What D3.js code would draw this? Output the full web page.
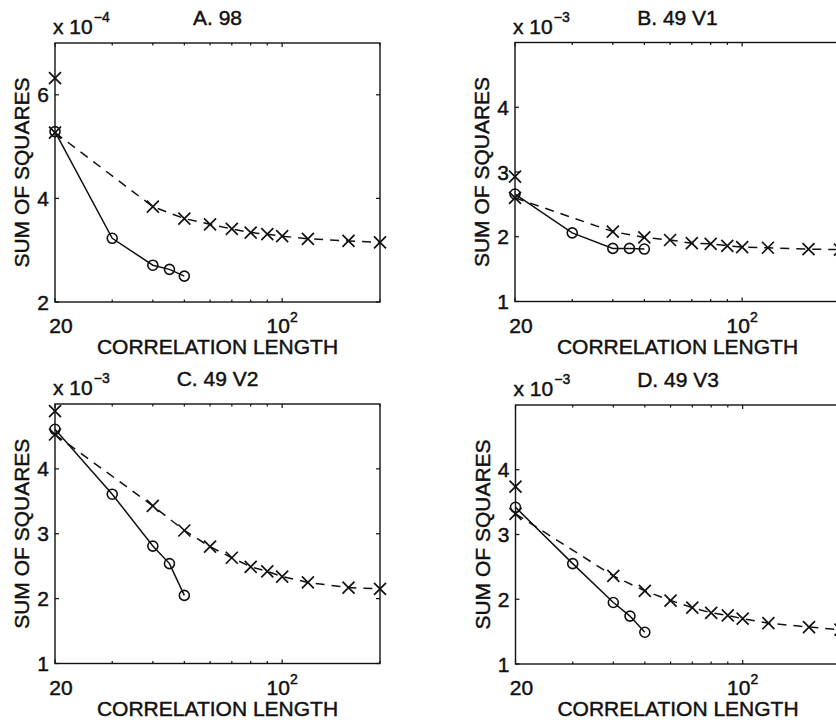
<!DOCTYPE html>
<html>
<head>
<meta charset="utf-8">
<script src="https://cdn.jsdelivr.net/npm/d3@7"></script>
<style>
  html, body { margin: 0; padding: 0; background: #fff; }
  svg { display: block; }
  text { font-family: "Liberation Sans", Arial, Helvetica, sans-serif; fill: #111; stroke: #111; stroke-width: 0.45px; }
</style>
</head>
<body>
<svg id="chart" width="836" height="723"></svg>
<script>
// ---------- data ----------
const panelTitles = ["A. 98", "B. 49 V1", "C. 49 V2", "D. 49 V3"];
const exponents = [-4, -3, -3, -3];
const yMin = [2, 1, 1, 1];
const yMax = [7, 5, 5, 5];
const yTickLabelsA = [2, 4, 6];
const yTickLabelsBCD = [1, 2, 3, 4];
const xMin = 20;
const xMax = 200;
const xMajorTicks = [20, 100];
const xMinorTicks = [30, 40, 50, 60, 70, 80, 90, 200];

// correlation lengths
const lengthsDashed = [20, 40, 50, 60, 70, 80, 90, 100, 120, 160, 200];
const lengthsSolid = [20, 30, 40, 45, 50];

// dashed series (x markers)
const dashedA = [5.27, 3.84, 3.61, 3.50, 3.41, 3.34, 3.31, 3.27, 3.22, 3.18, 3.15];
const dashedB = [2.60, 2.08, 1.99, 1.95, 1.90, 1.89, 1.86, 1.84, 1.83, 1.81, 1.80];
const dashedC = [4.53, 3.43, 3.05, 2.80, 2.63, 2.49, 2.42, 2.34, 2.25, 2.17, 2.15];
const dashedD = [3.32, 2.36, 2.13, 1.98, 1.87, 1.79, 1.75, 1.70, 1.63, 1.57, 1.53];

// solid series (circle markers)
const solidA = [5.29, 3.23, 2.71, 2.63, 2.50];
const solidB = [2.66, 2.06, 1.82, 1.82, 1.81];
const solidC = [4.61, 3.61, 2.81, 2.54, 2.05];
const solidD = [3.42, 2.55, 1.95, 1.74, 1.49];

// isolated point at length 20
const isolated = [6.32, 2.93, 4.89, 3.74];

// ---------- layout ----------
const panels = [
  { left: 55,    top: 43,  w: 325, h: 259,   dashed: dashedA, solid: solidA, ticks: yTickLabelsA },
  { left: 515,   top: 42.5,w: 325, h: 259,   dashed: dashedB, solid: solidB, ticks: yTickLabelsBCD },
  { left: 55,    top: 404, w: 325, h: 259.5, dashed: dashedC, solid: solidC, ticks: yTickLabelsBCD },
  { left: 515.5, top: 405, w: 325, h: 259,   dashed: dashedD, solid: solidD, ticks: yTickLabelsBCD }
];

const svg = d3.select("#chart");
const FS = 21;
const SUP = 14;

function xMarker(g, cx, cy, s) {
  g.append("path")
    .attr("d", `M${cx - s},${cy - s}L${cx + s},${cy + s}M${cx - s},${cy + s}L${cx + s},${cy - s}`)
    .attr("stroke", "#111").attr("stroke-width", 1.7).attr("fill", "none");
}

panels.forEach((p, i) => {
  const g = svg.append("g").attr("transform", `translate(${p.left},${p.top})`);
  const x = d3.scaleLog().domain([xMin, xMax]).range([0, p.w]);
  const y = d3.scaleLinear().domain([yMin[i], yMax[i]]).range([p.h, 0]);

  // frame
  g.append("rect").attr("x", 0).attr("y", 0).attr("width", p.w).attr("height", p.h)
    .attr("fill", "none").attr("stroke", "#111").attr("stroke-width", 1.4);

  // x ticks (inside, bottom & top)
  const xt = xMajorTicks.map(v => ({ v, len: 4 })).concat(xMinorTicks.map(v => ({ v, len: 2.5 })));
  xt.forEach(t => {
    const xx = x(t.v);
    g.append("line").attr("x1", xx).attr("x2", xx).attr("y1", p.h).attr("y2", p.h - t.len)
      .attr("stroke", "#111").attr("stroke-width", 1.2);
    g.append("line").attr("x1", xx).attr("x2", xx).attr("y1", 0).attr("y2", t.len)
      .attr("stroke", "#111").attr("stroke-width", 1.2);
  });
  // y ticks (inside, left & right)
  p.ticks.forEach(v => {
    const yy = y(v);
    g.append("line").attr("x1", 0).attr("x2", 4).attr("y1", yy).attr("y2", yy)
      .attr("stroke", "#111").attr("stroke-width", 1.2);
    g.append("line").attr("x1", p.w).attr("x2", p.w - 4).attr("y1", yy).attr("y2", yy)
      .attr("stroke", "#111").attr("stroke-width", 1.2);
  });

  // y tick labels
  p.ticks.forEach(v => {
    g.append("text").attr("x", -6).attr("y", y(v) + 7.5).attr("text-anchor", "end")
      .attr("font-size", FS).text(v);
  });

  // x tick labels
  g.append("text").attr("x", x(20) + 6).attr("y", p.h + 31).attr("text-anchor", "middle")
    .attr("font-size", FS).text("20");
  const t100 = g.append("text").attr("x", x(100)).attr("y", p.h + 31).attr("text-anchor", "middle")
    .attr("font-size", FS);
  t100.append("tspan").text("10");
  t100.append("tspan").attr("dy", -11).attr("font-size", SUP).text("2");

  // axis titles
  g.append("text").attr("x", p.w / 2).attr("y", p.h + 52).attr("text-anchor", "middle")
    .attr("font-size", FS).text("CORRELATION LENGTH");
  g.append("text").attr("transform", `translate(-26,${p.h / 2}) rotate(-90)`)
    .attr("text-anchor", "middle").attr("font-size", FS).text("SUM OF SQUARES");

  // panel title
  g.append("text").attr("x", p.w / 2).attr("y", -18).attr("text-anchor", "middle")
    .attr("font-size", FS).text(panelTitles[i]);

  // exponent label
  const ex = g.append("text").attr("x", -2).attr("y", -9).attr("font-size", FS);
  ex.append("tspan").text("x 10");
  ex.append("tspan").attr("dy", -12).attr("dx", 1).attr("font-size", SUP).text("\u2212" + Math.abs(exponents[i]));

  // dashed series
  const dashedPts = lengthsDashed.map((l, k) => [l, p.dashed[k]]);
  const line = d3.line().x(d => x(d[0])).y(d => y(d[1]));
  g.append("path").datum(dashedPts).attr("d", line)
    .attr("fill", "none").attr("stroke", "#111").attr("stroke-width", 1.5)
    .attr("stroke-dasharray", "9,7");
  dashedPts.forEach(d => xMarker(g, x(d[0]), y(d[1]), 6));

  // solid series
  const solidPts = lengthsSolid.map((l, k) => [l, p.solid[k]]);
  g.append("path").datum(solidPts).attr("d", line)
    .attr("fill", "none").attr("stroke", "#111").attr("stroke-width", 1.5);
  solidPts.forEach(d => {
    g.append("circle").attr("cx", x(d[0])).attr("cy", y(d[1])).attr("r", 5)
      .attr("fill", "none").attr("stroke", "#111").attr("stroke-width", 1.6);
  });

  // isolated point
  xMarker(g, x(20), y(isolated[i]), 6);
});
</script>
</body>
</html>
